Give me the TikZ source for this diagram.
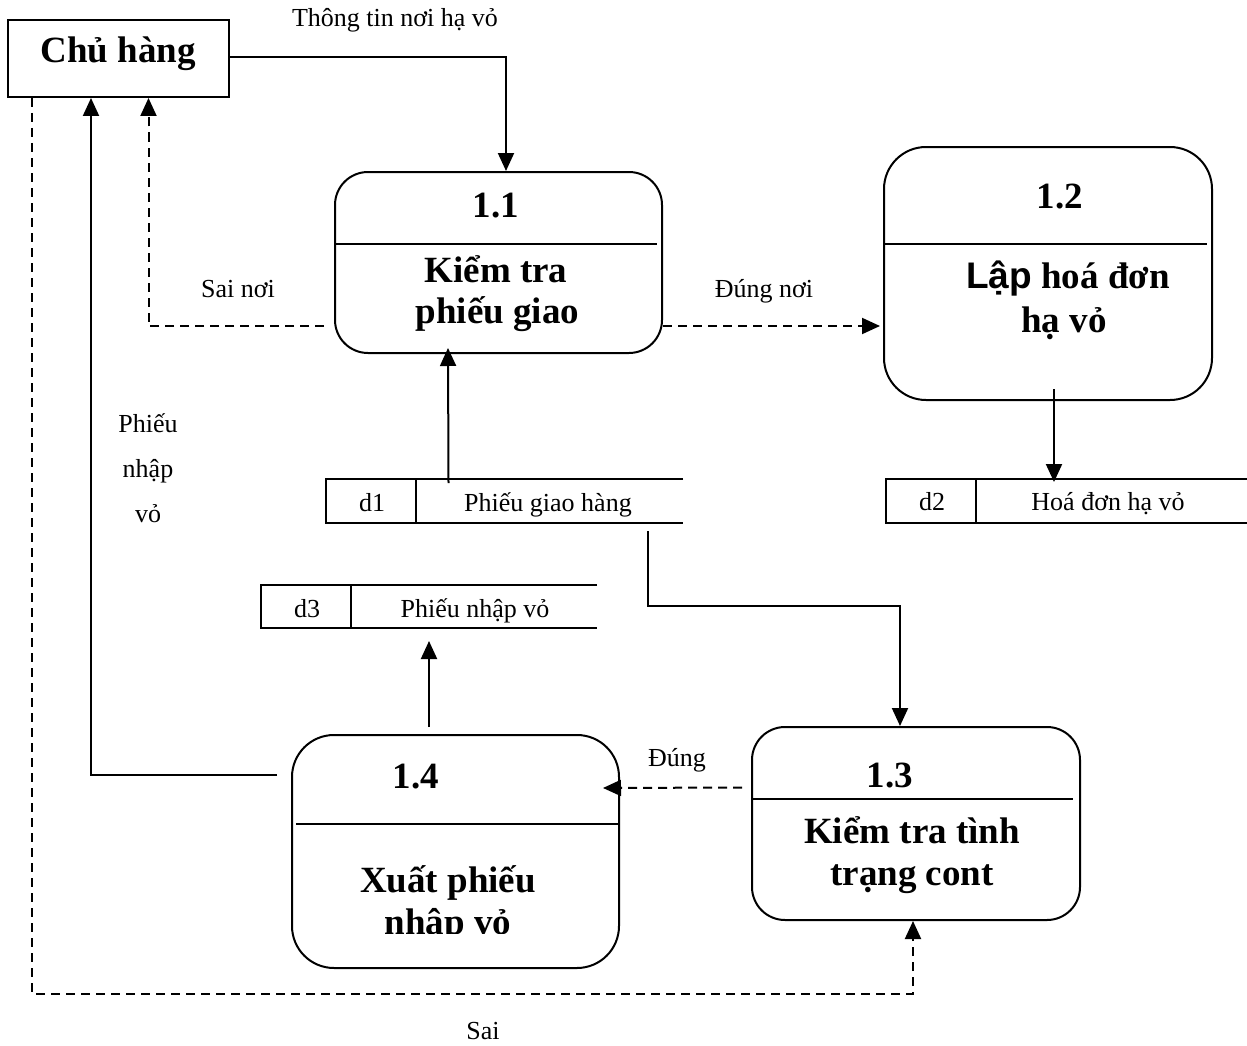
\documentclass[tikz,border=0pt]{standalone}
\usepackage{fontspec}
\setmainfont{Liberation Serif}
\newfontfamily\lapfont{Liberation Sans}
\usetikzlibrary{arrows.meta,calc}

\begin{document}
\begin{tikzpicture}[x=1pt,y=-1pt,
  line width=2pt,
  proc/.style={draw, rectangle, inner sep=0pt},
  ent/.style={draw, rectangle, inner sep=0pt},
  store/.style={rectangle, inner sep=0pt},
  arr/.style={-{Triangle[length=18pt,width=16pt]}},
  darr/.style={arr, dash pattern=on 9pt off 6pt},
  big/.style={font=\bfseries\fontsize{37}{40}\selectfont, inner sep=0pt, anchor=base},
  lbl/.style={font=\fontsize{26}{28}\selectfont, inner sep=0pt, anchor=base},
]
\useasboundingbox (0,0) rectangle (1247,1046);

% external entity
\node[ent, minimum width=221pt, minimum height=77pt] (chu) at (118.5,58.5) {};
\node[big] (chut) at (118,63) {Chủ hàng};

% processes
\node[proc, rounded corners=33pt, minimum width=327pt, minimum height=181pt] (p11) at (498.5,262.5) {};
\node[proc, rounded corners=42pt, minimum width=328pt, minimum height=253pt] (p12) at (1048,273.5) {};
\node[proc, rounded corners=33pt, minimum width=328pt, minimum height=193pt] (p13) at (916,823.5) {};
\node[proc, rounded corners=42pt, minimum width=327pt, minimum height=233pt] (p14) at (455.5,851.5) {};

% dividers inside the process boxes
\draw (336,244) -- (657,244);
\draw (884,244) -- (1207,244);
\draw (752,799) -- (1073,799);
\draw (296,824) -- (618,824);

% process texts
\node[big] (n11) at (496,217) {1.1};
\node[big] (t11a) at (496,282) {Kiểm tra};
\node[big] (t11b) at (497.5,323) {phiếu giao};

\node[big] (n12) at (1060,208) {1.2};
\node[big] (t12a) at (1068,288) {{\lapfont Lập} hoá đơn};
\node[big] (t12b) at (1064,332) {hạ vỏ};

\node[big] (n13) at (890,787) {1.3};
\node[big] (t13a) at (912,843) {Kiểm tra tình};
\node[big] (t13b) at (912,885) {trạng cont};

\node[big] (n14) at (416,788) {1.4};
\node[big] (t14a) at (448,892) {Xuất phiếu};
\begin{scope}
  \clip (280,900) rectangle (640,933);
  \node[big] (t14b) at (448,934) {nhập vỏ};
\end{scope}

% data stores
\node[store, minimum width=355pt, minimum height=42pt] (s1) at (504.5,501) {};
\node[store, minimum width=360pt, minimum height=42pt] (s2) at (1067,501) {};
\node[store, minimum width=334pt, minimum height=41pt] (s3) at (429,606.5) {};
\foreach \s in {s1,s2,s3}{
  \draw (\s.north east) -- (\s.north west) -- (\s.south west) -- (\s.south east);
  \draw ([xshift=90pt]\s.north west) -- ([xshift=90pt]\s.south west);
}
\node[lbl] (d1) at (372,511) {d1};
\node[lbl] (d1t) at (548,511) {Phiếu giao hàng};
\node[lbl] (d2) at (932,510) {d2};
\node[lbl] (d2t) at (1108,510) {Hoá đơn hạ vỏ};
\node[lbl] (d3) at (307,617) {d3};
\node[lbl] (d3t) at (475,617) {Phiếu nhập vỏ};

% flows
\draw[arr] ([yshift=1.5pt]chu.east) -| ([xshift=7.5pt]p11.north);
\draw[darr] ($(p11.west)+(-10,63.5)$) -| ([xshift=30pt]chu.south);
\draw[arr] ($(p14.west)+(-14,-76.5)$) -| ([xshift=-27.5pt]chu.south);
\draw[darr] ([xshift=-86.5pt]chu.south) -- ++(0,896) -| ([xshift=-3pt]p13.south);
\draw[darr] ($(p11.east)+(0,63.5)$) -- ($(p12.west)+(-3,52.5)$);
\draw[arr] ($(p12.south)+(6,-12)$) -- ($(s2.north)+(-13,3)$);
\draw[arr] ($(s1.north)+(-56,4)$) -- ($(p11.south)+(-50.5,-6)$);
\draw[arr] ($(s1.south)+(143.5,8)$) -- ++(0,75) -| ([xshift=-16pt]p13.north);
\draw[arr] ($(p14.north)+(-26.5,-7)$) -- ($(s3.south)+(0,13)$);
\draw[darr] ($(p13.west)+(-9,-36)$) -- ($(p14.east)+(-17,-63.5)$);

% flow labels
\node[lbl] (l1) at (395,27) {Thông tin nơi hạ vỏ};
\node[lbl] (l2) at (238,297) {Sai nơi};
\node[lbl] (l3) at (764,297) {Đúng nơi};
\node[lbl] (l4a) at (148,432) {Phiếu};
\node[lbl] (l4b) at (148,477) {nhập};
\node[lbl] (l4c) at (148,522) {vỏ};
\node[lbl] (l5) at (677,766) {Đúng};
\node[lbl] (l6) at (483,1039) {Sai};
\end{tikzpicture}
\end{document}
